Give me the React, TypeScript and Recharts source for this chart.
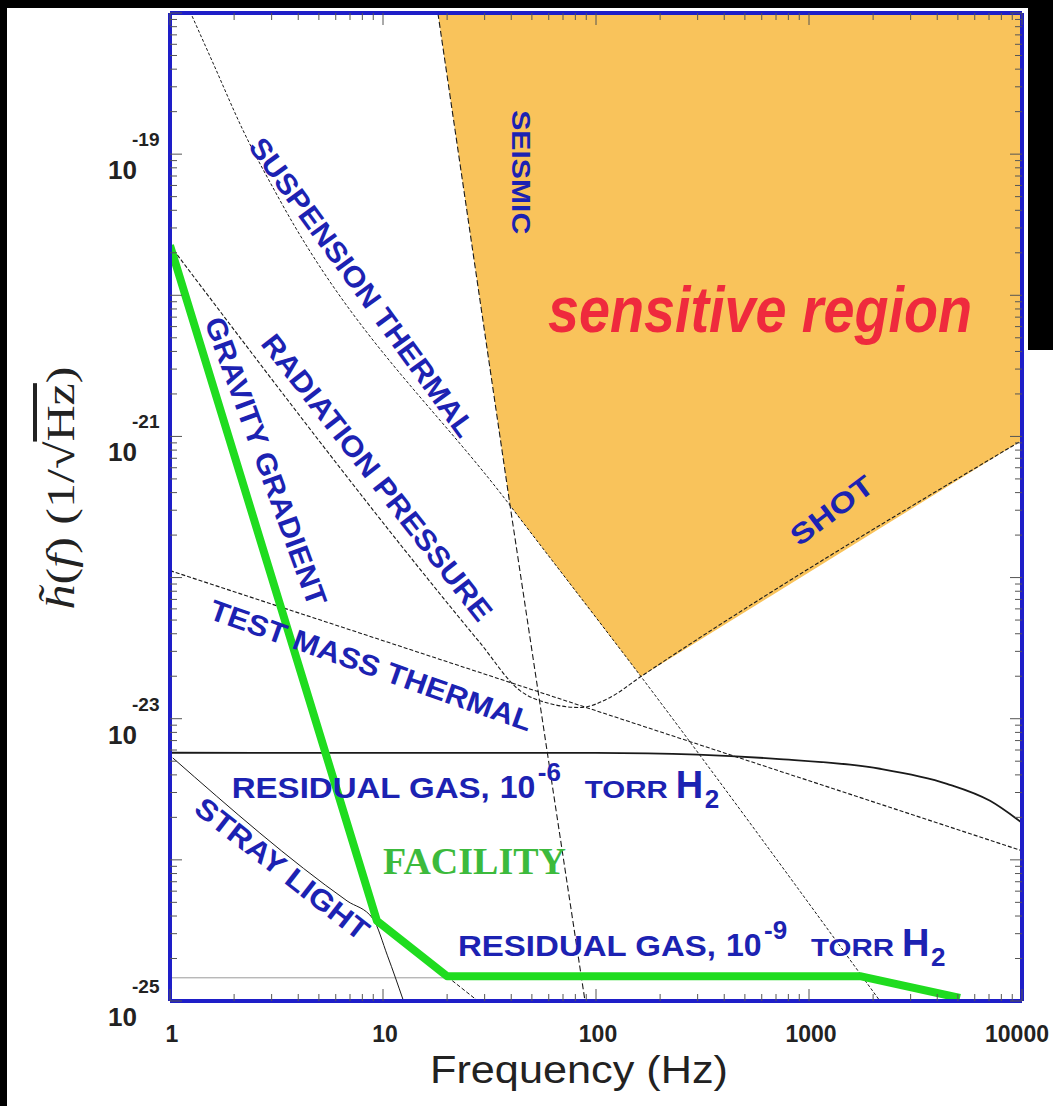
import { ComposedChart, Line, Area, XAxis, YAxis, ReferenceDot } from "recharts";

// [frequency Hz, strain amplitude 1/sqrt(Hz)]
type Pt = [number, number];

const FREQ_LABELS = [1, 10, 100, 1000, 10000];
const STRAIN_DECADES = [-25, -24, -23, -22, -21, -20, -19];
const STRAIN_LABELLED = [-25, -23, -21, -19];
const STRAIN_TOP = 1e-18;

const SENSITIVE_FLOOR: Pt[] = [[18.1, 1e-18], [39.5, 3.24e-22], [162.6, 1.99e-23], [10000, 9.38e-22]];
const SEISMIC: Pt[] = [[18.1, 1e-18], [39.5, 3.24e-22], [58.9, 5.93e-24], [88.8, 1e-25]];
const SUSPENSION_THERMAL: Pt[] = [[1.27, 9.5e-19], [1.6, 4.35e-19], [2.2, 1.48e-19], [3.28, 4.72e-20], [39.5, 3.24e-22], [162.6, 1.99e-23], [2154, 1e-25]];
const RADIATION_SHOT: Pt[] = [[1, 2.26e-20], [28.5, 3.46e-23], [44, 1.58e-23], [60.8, 1.28e-23], [84.1, 1.2e-23], [116, 1.41e-23], [162.6, 1.99e-23], [10000, 9.38e-22]];
const TEST_MASS_THERMAL: Pt[] = [[1, 1.12e-22], [10000, 1.16e-24]];
const RESIDUAL_GAS_6: Pt[] = [[1, 5.74e-24], [100, 5.72e-24], [300, 5.56e-24], [700, 5.2e-24], [2154, 4.42e-24], [4446, 3.46e-24], [7080, 2.62e-24], [10000, 1.83e-24]];
const RESIDUAL_GAS_9: Pt[] = [[1, 1.46e-25], [1736, 1.46e-25]];
const STRAY_LIGHT: Pt[] = [[1.03, 5.28e-24], [6.78, 5.12e-25], [8.98, 3.82e-25], [10.5, 2.09e-25], [12.4, 1.03e-25]];
const FACILITY_SHOULDER: Pt[] = [[9.37, 3.69e-25], [27.9, 1e-25]];
const FACILITY: Pt[] = [[1, 2.26e-20], [9.37, 3.69e-25], [19.97, 1.5e-25], [1736, 1.5e-25], [5115, 1.05e-25]];

// label anchors (data coords) + how they sit
const NOTES = [
  { text: "SUSPENSION THERMAL", f: 7.97, h: 1.14e-20, angle: 54, size: 29, length: 362 },
  { text: "RADIATION PRESSURE", f: 9.37, h: 5.12e-22, angle: 52, size: 29, length: 355 },
  { text: "GRAVITY GRADIENT", f: 2.82, h: 6.65e-22, angle: 70, size: 29, length: 305 },
  { text: "TEST MASS THERMAL", f: 8.79, h: 2.38e-23, angle: 19.5, size: 29, length: 340 },
  { text: "STRAY LIGHT", f: 3.36, h: 8.63e-25, angle: 38, size: 29, length: 212 },
  { text: "SEISMIC", f: 44.5, h: 7.45e-20, angle: 90, size: 25, length: 124 },
  { text: "SHOT", f: 1282, h: 2.98e-22, angle: -37, size: 28, length: 96 },
];
const GAS_NOTES = [
  { f: 1.95, h: 2.75e-24, exp: "-6" },
  { f: 22.5, h: 2.08e-25, exp: "-9" },
];

const ORANGE = "#f9c35b";
const FRAME = "#1e1ec8";
const BLUE = "#1c22b2";
const CURVE = "#1a1a1a";
const TICK = "#555";
const SANS = "'Liberation Sans', Arial, Helvetica, sans-serif";
const SERIF = "'Liberation Serif', 'Times New Roman', serif";

const rows = (pts: Pt[]) => pts.map(([f, h]) => ({ f, h }));
const isDecade = (v: number) => Math.abs(Math.log10(v) - Math.round(Math.log10(v))) < 1e-6;

const xTicks = [0, 1, 2, 3]
  .flatMap((e) => [1, 2, 3, 4, 5, 6, 7, 8, 9].map((m) => Number(`${m}e${e}`)))
  .concat([10000]);
const yTicks = STRAIN_DECADES
  .flatMap((e) => [1, 2, 3, 4, 5, 6, 7, 8, 9].map((m) => Number(`${m}e${e}`)))
  .concat([STRAIN_TOP]);

function LeftTick(props: any) {
  const { x, y, payload } = props;
  const v = payload.value;
  const major = isDecade(v);
  const e = Math.round(Math.log10(v));
  return (
    <g>
      <line x1={x} x2={x + (major ? 12 : 7)} y1={y} y2={y} stroke={TICK} />
      {major && STRAIN_LABELLED.includes(e) && (
        <text fontFamily={SANS} fontWeight="bold" fill="#222">
          <tspan x={x - 33} y={y + 25} textAnchor="end" fontSize={26}>10</tspan>
          <tspan x={x - 38} y={y - 8} textAnchor="start" fontSize={19}>{`${e}`}</tspan>
        </text>
      )}
    </g>
  );
}

function RightTick(props: any) {
  const { x, y, payload } = props;
  const major = isDecade(payload.value);
  return <line x1={x} x2={x - (major ? 12 : 7)} y1={y} y2={y} stroke={TICK} />;
}

function BottomTick(props: any) {
  const { x, y, payload } = props;
  const v = payload.value;
  const major = isDecade(v);
  return (
    <g>
      <line x1={x} x2={x} y1={y} y2={y - (major ? 12 : 7)} stroke={TICK} />
      {FREQ_LABELS.includes(v) && (
        <text x={v === 10000 ? x - 5 : x + 2} y={y + 41} textAnchor="middle" fontFamily={SANS} fontWeight="bold" fontSize={23} fill="#222">
          {v}
        </text>
      )}
    </g>
  );
}

function TopTick(props: any) {
  const { x, y, payload } = props;
  const major = isDecade(payload.value);
  return <line x1={x} x2={x} y1={y} y2={y + (major ? 12 : 7)} stroke={TICK} />;
}

function GasLabel({ cx, cy, exp }: any) {
  return (
    <text y={cy} fontFamily={SANS} fontWeight="bold" fill={BLUE}>
      <tspan x={cx} fontSize={30} textLength={258} lengthAdjust="spacingAndGlyphs">RESIDUAL GAS,</tspan>
      <tspan x={cx + 268} fontSize={32}>10</tspan>
      <tspan x={cx + 306} dy={-17} fontSize={26}>{exp}</tspan>
      <tspan x={cx + 353} dy={17} fontSize={24} textLength={83} lengthAdjust="spacingAndGlyphs">TORR</tspan>
      <tspan x={cx + 444} fontSize={38}>H</tspan>
      <tspan x={cx + 473} dy={10} fontSize={26}>2</tspan>
    </text>
  );
}

export default function App() {
  const axisLine = { stroke: FRAME, strokeWidth: 4 };
  return (
    <div style={{ position: "absolute", left: 0, top: 0, width: 1053, height: 1106, background: "#000" }}>
      <div style={{ position: "absolute", left: 7, top: 8, width: 1046, height: 1098, background: "#fff" }} />
      <div style={{ position: "absolute", left: 1028, top: 0, width: 25, height: 350, background: "#000" }} />
      <div style={{ position: "absolute", left: 0, top: 0 }}>
        <ComposedChart width={1053} height={1106} margin={{ top: 12, right: 30, bottom: 45, left: 110 }}>
          <XAxis dataKey="f" type="number" scale="log" domain={[1, 10000]} allowDataOverflow ticks={xTicks} interval={0}
            height={60} tickSize={0} tickMargin={0} tickLine={false} axisLine={axisLine} tick={(p: any) => <BottomTick {...p} />} />
          <XAxis xAxisId="top" orientation="top" dataKey="f" type="number" scale="log" domain={[1, 10000]} allowDataOverflow
            ticks={xTicks} interval={0} height={1} tickSize={0} tickMargin={0} tickLine={false} axisLine={axisLine}
            tick={(p: any) => <TopTick {...p} />} />
          <YAxis type="number" scale="log" domain={[1e-25, STRAIN_TOP]} allowDataOverflow ticks={yTicks} interval={0}
            width={60} tickSize={0} tickMargin={0} tickLine={false} axisLine={axisLine} tick={(p: any) => <LeftTick {...p} />} />
          <YAxis yAxisId="right" orientation="right" type="number" scale="log" domain={[1e-25, STRAIN_TOP]} allowDataOverflow
            ticks={yTicks} interval={0} width={1} tickSize={0} tickMargin={0} tickLine={false} axisLine={axisLine}
            tick={(p: any) => <RightTick {...p} />} />

          <Area data={SENSITIVE_FLOOR.map(([f, h]) => ({ f, band: [h, STRAIN_TOP] }))} dataKey="band" type="linear"
            fill={ORANGE} fillOpacity={1} stroke="none" isAnimationActive={false} activeDot={false} />

          <Line data={rows(RESIDUAL_GAS_9)} dataKey="h" type="linear" stroke="#9a9a9a" strokeWidth={1} dot={false} activeDot={false} isAnimationActive={false} />
          <Line data={rows(SEISMIC)} dataKey="h" type="linear" stroke={CURVE} strokeWidth={1.1} strokeDasharray="6 3" dot={false} activeDot={false} isAnimationActive={false} />
          <Line data={rows(SUSPENSION_THERMAL)} dataKey="h" type="monotone" stroke={CURVE} strokeWidth={1} strokeDasharray="3 2" dot={false} activeDot={false} isAnimationActive={false} />
          <Line data={rows(RADIATION_SHOT)} dataKey="h" type="monotone" stroke={CURVE} strokeWidth={1.1} strokeDasharray="4 2" dot={false} activeDot={false} isAnimationActive={false} />
          <Line data={rows(TEST_MASS_THERMAL)} dataKey="h" type="linear" stroke={CURVE} strokeWidth={1.1} strokeDasharray="4 2" dot={false} activeDot={false} isAnimationActive={false} />
          <Line data={rows(RESIDUAL_GAS_6)} dataKey="h" type="monotone" stroke={CURVE} strokeWidth={1.8} dot={false} activeDot={false} isAnimationActive={false} />
          <Line data={rows(STRAY_LIGHT)} dataKey="h" type="monotone" stroke={CURVE} strokeWidth={1} dot={false} activeDot={false} isAnimationActive={false} />
          <Line data={rows(FACILITY_SHOULDER)} dataKey="h" type="linear" stroke={CURVE} strokeWidth={1} strokeDasharray="4 2" dot={false} activeDot={false} isAnimationActive={false} />
          <Line data={rows(FACILITY)} dataKey="h" type="linear" stroke="#1fdc1f" strokeWidth={8} strokeLinejoin="round" dot={false} activeDot={false} isAnimationActive={false} />

          {NOTES.map((n) => (
            <ReferenceDot key={n.text} x={n.f} y={n.h} r={0} ifOverflow="visible"
              shape={(p: any) => (
                <text x={p.cx} y={p.cy} textAnchor="middle" dominantBaseline="central"
                  transform={`rotate(${n.angle},${p.cx},${p.cy})`} fontFamily={SANS} fontWeight="bold"
                  fontSize={n.size} fill={BLUE} textLength={n.length} lengthAdjust="spacingAndGlyphs">
                  {n.text}
                </text>
              )} />
          ))}
          {GAS_NOTES.map((g) => (
            <ReferenceDot key={g.exp} x={g.f} y={g.h} r={0} ifOverflow="visible"
              shape={(p: any) => <GasLabel cx={p.cx} cy={p.cy} exp={g.exp} />} />
          ))}
          <ReferenceDot x={589} y={5.47e-21} r={0} ifOverflow="visible"
            shape={(p: any) => (
              <text x={p.cx} y={p.cy} textAnchor="middle" fontFamily={SANS} fontWeight="bold" fontStyle="italic"
                fontSize={64} fill="#ef2a3d" textLength={424} lengthAdjust="spacingAndGlyphs">
                sensitive region
              </text>
            )} />
          <ReferenceDot x={10} y={7.96e-25} r={0} ifOverflow="visible"
            shape={(p: any) => (
              <text x={p.cx} y={p.cy} fontFamily={SERIF} fontWeight="bold" fontSize={38} fill="#3cba3c">
                FACILITY
              </text>
            )} />
        </ComposedChart>
      </div>
      <svg width={1053} height={1106} style={{ position: "absolute", left: 0, top: 0, pointerEvents: "none" }}>
        <text x={579} y={1083} textAnchor="middle" fontFamily={SANS} fontSize={38} fill="#222" textLength={298} lengthAdjust="spacingAndGlyphs">
          Frequency (Hz)
        </text>
        <text transform="translate(60,488) rotate(-90)" textAnchor="middle" dominantBaseline="central" fontFamily={SERIF}
          fontSize={40} fill="#222" textLength={243} lengthAdjust="spacingAndGlyphs">
          <tspan fontStyle="italic">{"h\u0303"}</tspan>(<tspan fontStyle="italic">f</tspan>) (1/{"\u221A"}<tspan textDecoration="overline">Hz</tspan>)
        </text>
      </svg>
    </div>
  );
}
